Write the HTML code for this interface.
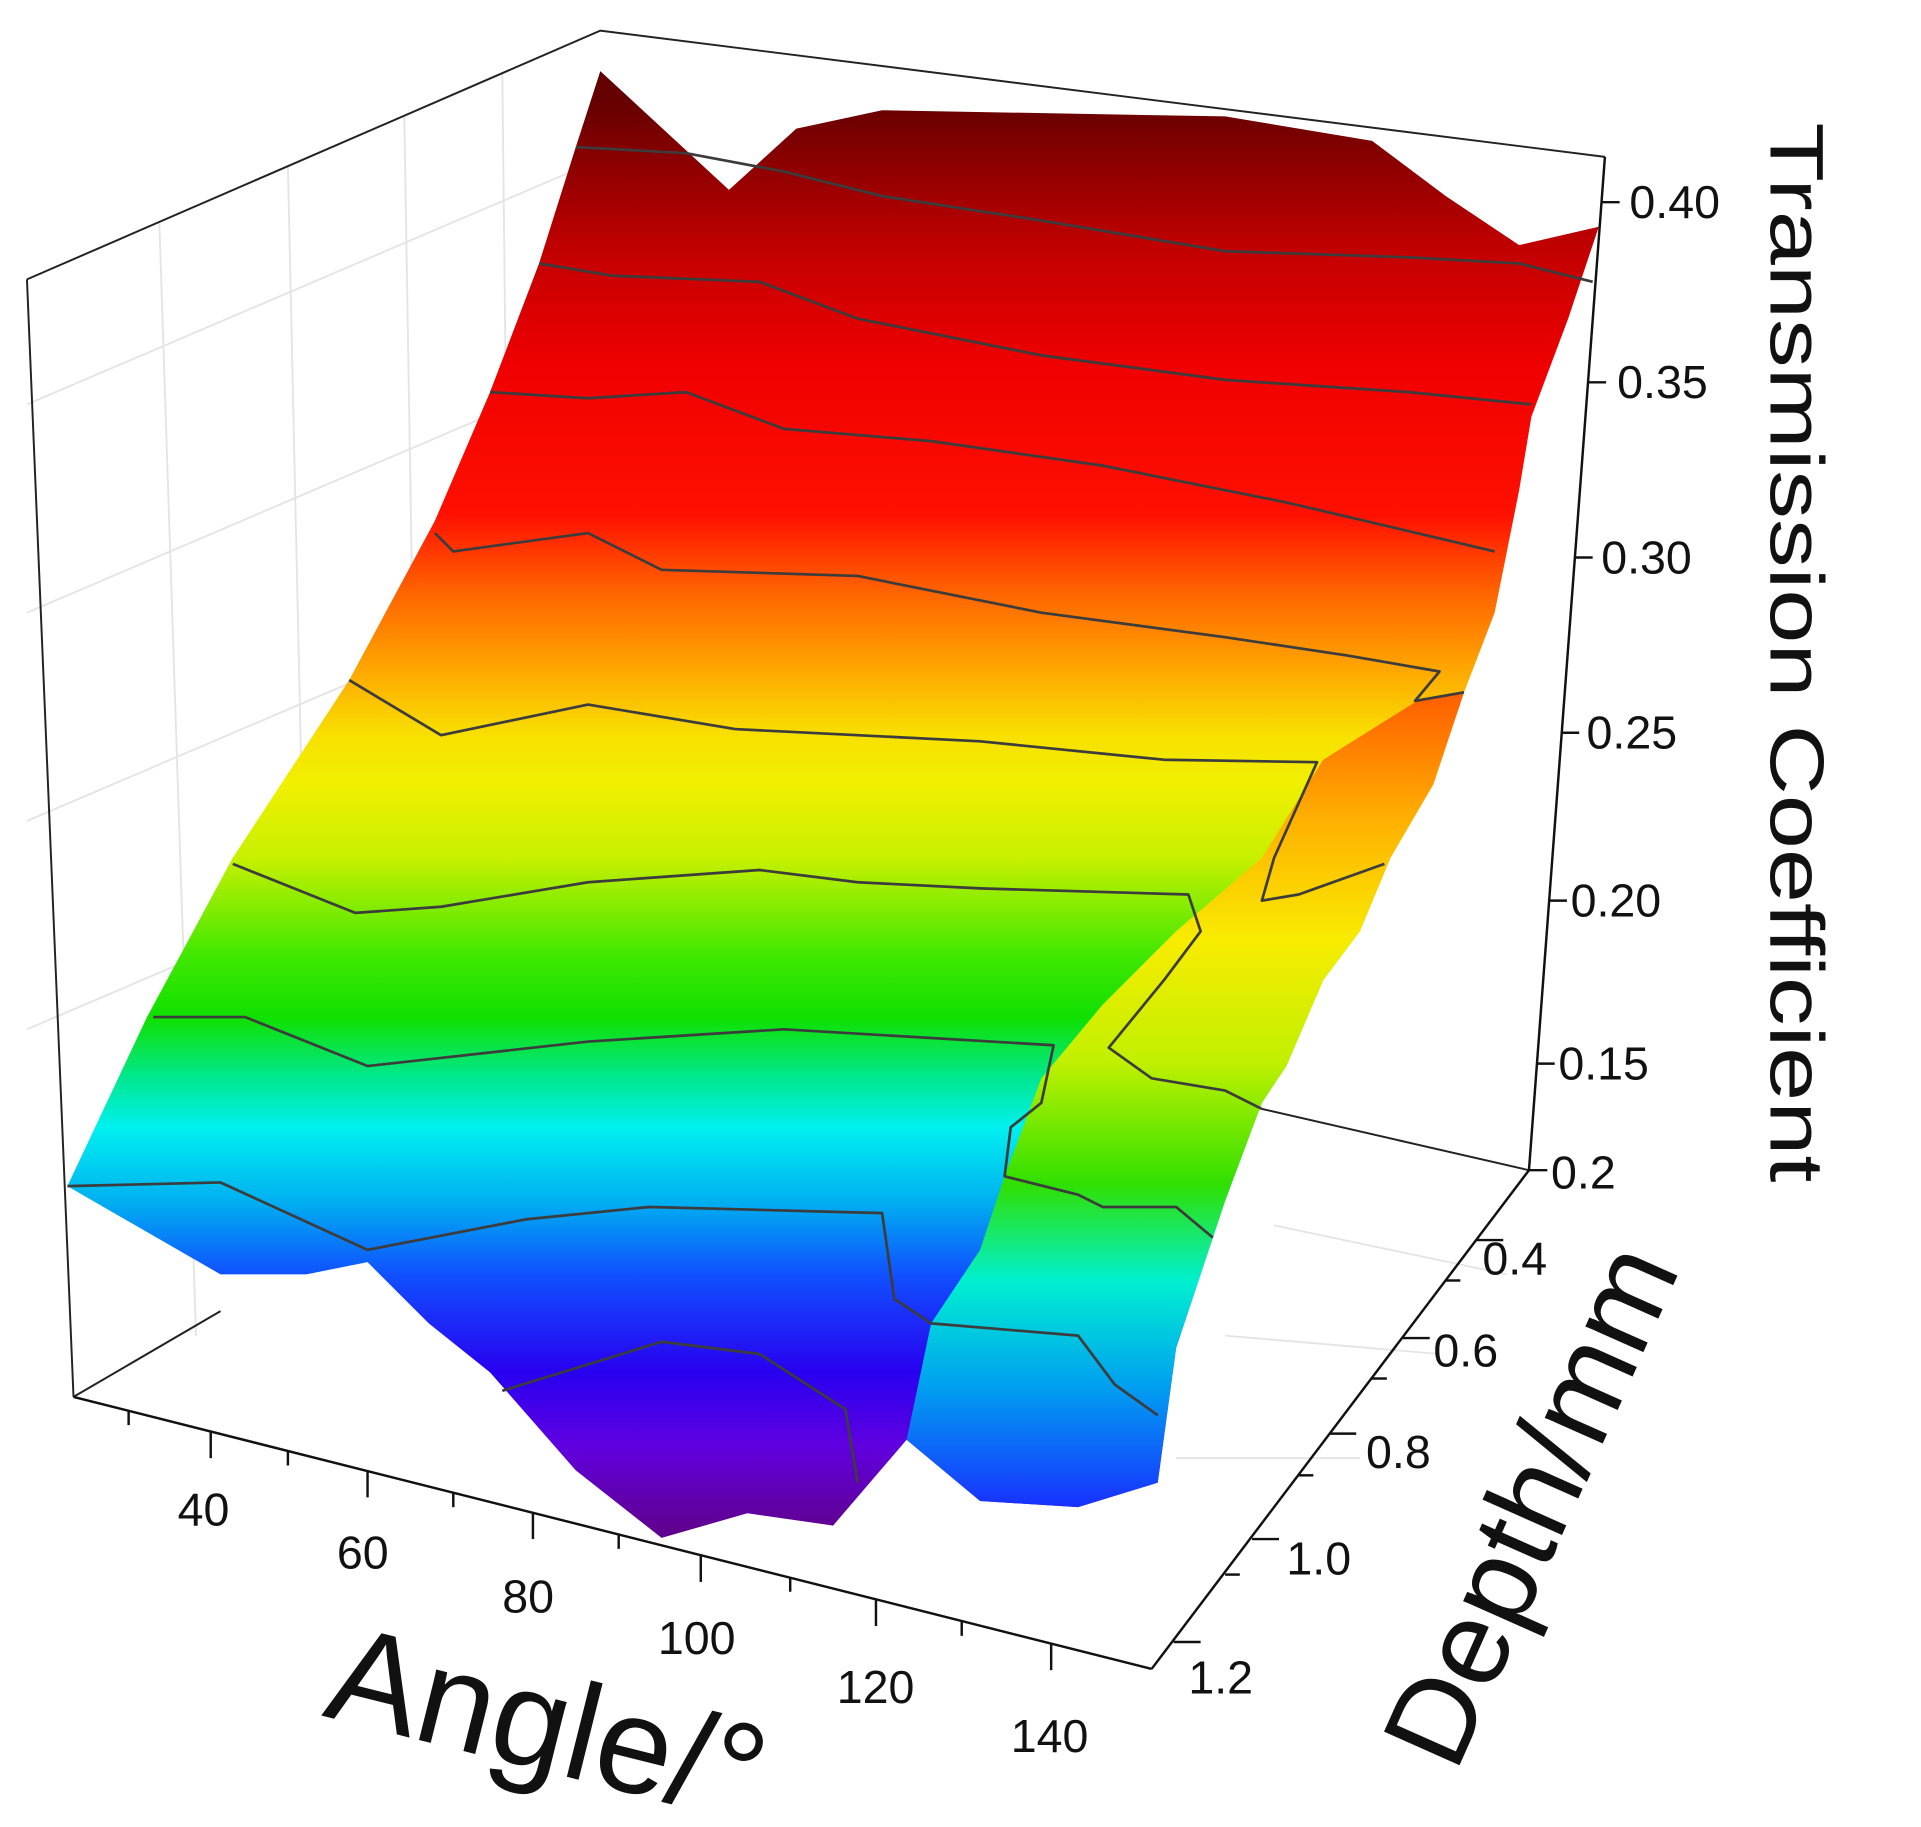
<!DOCTYPE html>
<html><head><meta charset="utf-8"><style>
html,body{margin:0;padding:0;background:#fff;width:1921px;height:1827px;overflow:hidden}
svg{display:block}
text{font-family:"Liberation Sans",Arial,sans-serif;fill:#111}
</style></head><body>
<svg width="1921" height="1827" viewBox="0 0 1568 1491" preserveAspectRatio="none" xmlns="http://www.w3.org/2000/svg">
<defs>
<linearGradient id="g1" gradientUnits="userSpaceOnUse" x1="0" y1="60" x2="0" y2="1260">
<stop offset="0" stop-color="#600000"/>
<stop offset="0.025" stop-color="#6a0000"/>
<stop offset="0.117" stop-color="#c00000"/>
<stop offset="0.2" stop-color="#f00000"/>
<stop offset="0.3" stop-color="#ff1000"/>
<stop offset="0.35" stop-color="#ff6000"/>
<stop offset="0.4" stop-color="#ffa000"/>
<stop offset="0.45" stop-color="#f8e000"/>
<stop offset="0.483" stop-color="#f0f000"/>
<stop offset="0.533" stop-color="#c8f000"/>
<stop offset="0.6" stop-color="#40e800"/>
<stop offset="0.642" stop-color="#10e000"/>
<stop offset="0.683" stop-color="#00e890"/>
<stop offset="0.717" stop-color="#00f0f0"/>
<stop offset="0.767" stop-color="#00b0f0"/>
<stop offset="0.817" stop-color="#1050ff"/>
<stop offset="0.883" stop-color="#2800f0"/>
<stop offset="0.933" stop-color="#6000e0"/>
<stop offset="0.99" stop-color="#600090"/>
</linearGradient>
<linearGradient id="g2" gradientUnits="userSpaceOnUse" x1="0" y1="570" x2="0" y2="1230">
<stop offset="0" stop-color="#ff6000"/>
<stop offset="0.15" stop-color="#ffb000"/>
<stop offset="0.3" stop-color="#f8ec00"/>
<stop offset="0.45" stop-color="#c0f000"/>
<stop offset="0.6" stop-color="#30e000"/>
<stop offset="0.72" stop-color="#00f0d0"/>
<stop offset="0.85" stop-color="#00a0f0"/>
<stop offset="1" stop-color="#1830ff"/>
</linearGradient>
</defs>
<g stroke="#e4e4e4" stroke-width="1.5" fill="none">
<line x1="130" y1="180" x2="160" y2="1090"/>
<line x1="235" y1="135" x2="255" y2="1040"/>
<line x1="330" y1="95" x2="345" y2="1000"/>
<line x1="410" y1="60" x2="420" y2="960"/>
<line x1="22" y1="330" x2="490" y2="130"/>
<line x1="22" y1="500" x2="490" y2="300"/>
<line x1="22" y1="670" x2="490" y2="470"/>
<line x1="22" y1="840" x2="490" y2="640"/>
<line x1="1040" y1="1000" x2="1230" y2="1040"/>
<line x1="1000" y1="1090" x2="1175" y2="1105"/>
<line x1="960" y1="1190" x2="1110" y2="1190"/>
</g>
<g stroke="#222" stroke-width="1.6" fill="none">
<polyline points="22,228 490,25 1310,128"/>
<line x1="22" y1="228" x2="60" y2="1140"/>
<line x1="60" y1="1140" x2="180" y2="1070"/>
<line x1="1030" y1="905" x2="1248" y2="955"/>
</g>
<polygon fill="url(#g1)" points="55,968 120,830 190,700 285,555 355,425 400,320 440,215 470,120 490,58 595,155 650,105 720,90 1000,95 1120,115 1180,160 1240,200 1305,185 1280,260 1250,340 1240,400 1220,500 1195,565 1170,640 1135,700 1110,760 1080,800 1050,870 1030,900 1000,980 990,1010 960,1100 945,1210 880,1230 800,1225 740,1175 680,1245 610,1235 540,1255 470,1200 400,1120 350,1080 300,1030 250,1040 180,1040"/>
<polygon fill="url(#g2)" points="1160,570 1195,565 1170,640 1135,700 1110,760 1080,800 1050,870 1030,900 1000,980 990,1010 960,1100 945,1210 880,1230 800,1225 740,1175 760,1080 800,1020 820,960 850,880 900,820 960,760 1030,700 1080,620"/>
<g stroke="#3c3c3c" stroke-width="2.2" fill="none" stroke-linejoin="round">
<polyline points="470,120 560,125 640,140 720,160 850,180 1000,205 1150,210 1240,215 1300,230"/>
<polyline points="440,215 500,225 620,230 700,260 850,290 1000,310 1150,320 1250,330"/>
<polyline points="400,320 480,325 560,320 640,350 760,360 900,380 1050,410 1220,450"/>
<polyline points="355,435 370,450 480,435 540,465 700,470 850,500 1000,520 1100,535 1175,548 1155,572 1195,565"/>
<polyline points="285,555 360,600 480,575 600,595 700,600 800,605 950,620 1075,622 1040,700 1030,735 1060,730 1130,705"/>
<polyline points="190,705 290,745 360,740 480,720 620,710 700,720 800,725 970,730 980,760 950,800 905,855 940,880 1000,890 1030,905"/>
<polyline points="125,830 200,830 300,870 480,850 640,840 860,853 850,900 825,920 820,960 880,975 900,985 960,985 990,1010"/>
<polyline points="55,968 180,965 300,1020 430,995 530,985 720,990 730,1060 760,1080 880,1090 910,1130 945,1155"/>
<polyline points="410,1135 540,1095 620,1105 690,1150 700,1210"/>
</g>
<g stroke="#111" stroke-width="2" fill="none">
<line x1="1310" y1="128" x2="1248" y2="955"/>
<line x1="1248" y1="955" x2="940" y2="1362"/>
<line x1="60" y1="1140" x2="940" y2="1362"/>
<line x1="1307" y1="165" x2="1322" y2="165"/>
<line x1="1296" y1="312" x2="1311" y2="312"/>
<line x1="1285" y1="455" x2="1300" y2="455"/>
<line x1="1274" y1="598" x2="1289" y2="598"/>
<line x1="1264" y1="735" x2="1279" y2="735"/>
<line x1="1254" y1="868" x2="1269" y2="868"/>
<line x1="1248" y1="955" x2="1263" y2="955"/>
<line x1="1205" y1="1012" x2="1227" y2="1012"/>
<line x1="1180" y1="1045" x2="1192" y2="1045"/>
<line x1="1145" y1="1092" x2="1167" y2="1092"/>
<line x1="1120" y1="1125" x2="1132" y2="1125"/>
<line x1="1085" y1="1170" x2="1107" y2="1170"/>
<line x1="1060" y1="1204" x2="1072" y2="1204"/>
<line x1="1022" y1="1256" x2="1044" y2="1256"/>
<line x1="1000" y1="1285" x2="1012" y2="1285"/>
<line x1="958" y1="1340" x2="980" y2="1340"/>
<line x1="105" y1="1151" x2="105" y2="1163"/>
<line x1="172" y1="1168" x2="172" y2="1190"/>
<line x1="235" y1="1184" x2="235" y2="1196"/>
<line x1="300" y1="1200" x2="300" y2="1222"/>
<line x1="370" y1="1218" x2="370" y2="1230"/>
<line x1="435" y1="1234" x2="435" y2="1256"/>
<line x1="505" y1="1252" x2="505" y2="1264"/>
<line x1="572" y1="1269" x2="572" y2="1291"/>
<line x1="645" y1="1287" x2="645" y2="1299"/>
<line x1="715" y1="1305" x2="715" y2="1327"/>
<line x1="785" y1="1323" x2="785" y2="1335"/>
<line x1="858" y1="1341" x2="858" y2="1363"/>
</g>
<g font-size="38">
<text x="1330" y="178">0.40</text>
<text x="1320" y="325">0.35</text>
<text x="1307" y="468">0.30</text>
<text x="1295" y="611">0.25</text>
<text x="1282" y="748">0.20</text>
<text x="1272" y="881">0.15</text>
<text x="1266" y="970">0.2</text>
<text x="1210" y="1040">0.4</text>
<text x="1170" y="1115">0.6</text>
<text x="1115" y="1198">0.8</text>
<text x="1050" y="1285">1.0</text>
<text x="970" y="1382">1.2</text>
<text x="145" y="1245">40</text>
<text x="275" y="1280">60</text>
<text x="410" y="1316">80</text>
<text x="537" y="1350">100</text>
<text x="683" y="1390">120</text>
<text x="825" y="1430">140</text>
</g>
<text font-size="62" textLength="865" lengthAdjust="spacingAndGlyphs" transform="translate(1445,100) rotate(90)">Transmission Coefficient</text>
<text font-size="98" transform="translate(1188,1448) rotate(-66)">Depth/mm</text>
<text font-size="112" transform="translate(262,1400) rotate(14)">Angle/°</text>
</svg>
</body></html>
